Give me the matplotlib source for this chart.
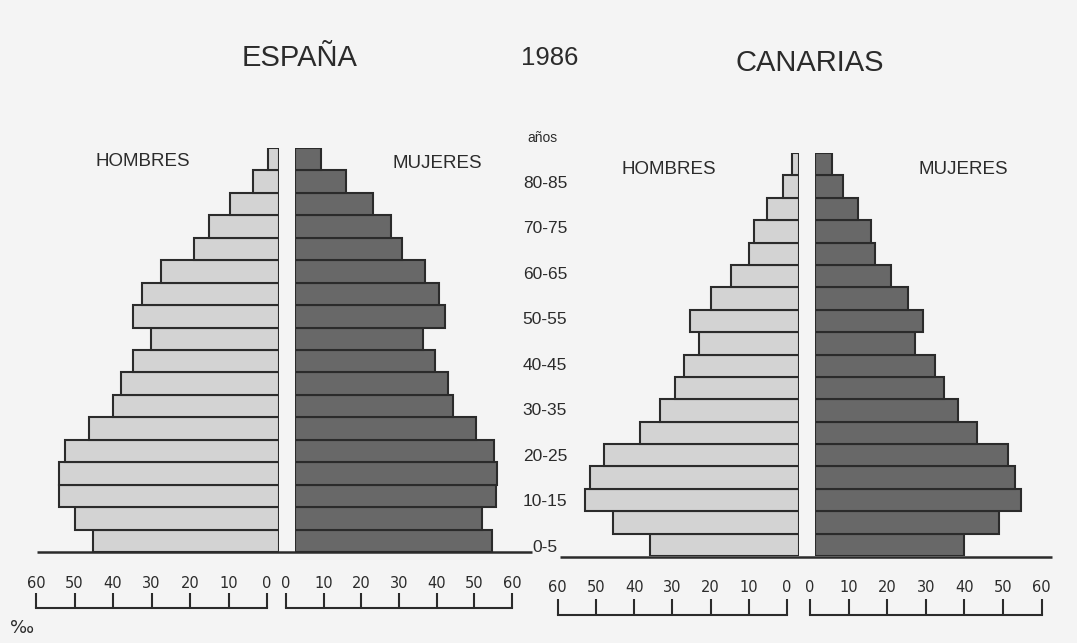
import numpy as np
import matplotlib
matplotlib.use("Agg")
import matplotlib.pyplot as plt

# ---------------- data (‰), age groups from youngest to oldest ----------------
age_groups = ["0-5", "5-10", "10-15", "15-20", "20-25", "25-30", "30-35", "35-40",
              "40-45", "45-50", "50-55", "55-60", "60-65", "65-70", "70-75",
              "75-80", "80-85", "85+"]
labelled_ages = ["0-5", "10-15", "20-25", "30-35", "40-45", "50-55", "60-65", "70-75", "80-85"]

espana_hombres = [48.4, 53.0, 57.1, 57.1, 55.6, 49.3, 43.2, 41.1, 38.0, 33.3,
                  38.0, 35.7, 30.6, 22.1, 18.2, 12.7, 6.8, 2.8]
espana_mujeres = [52.2, 49.5, 53.3, 53.5, 52.8, 48.0, 41.8, 40.7, 37.1, 34.0,
                  39.8, 38.3, 34.5, 28.3, 25.5, 20.6, 13.5, 6.9]
canarias_hombres = [38.9, 48.8, 55.9, 54.6, 51.0, 41.5, 36.3, 32.5, 30.2, 26.3,
                    28.6, 23.0, 17.9, 13.2, 11.9, 8.3, 4.2, 1.8]
canarias_mujeres = [38.5, 47.7, 53.4, 51.9, 50.0, 42.0, 37.0, 33.3, 31.2, 25.8,
                    28.0, 24.1, 19.6, 15.5, 14.4, 11.1, 7.3, 4.4]

ruler_ticks = [0, 10, 20, 30, 40, 50, 60]
ruler_labels = [str(t) for t in ruler_ticks]

# ---------------- figure ----------------
W, H = 1077, 643
fig = plt.figure(figsize=(W / 100, H / 100), dpi=100)
fig.patch.set_facecolor("#f4f4f4")
plt.rcParams["font.family"] = ["Liberation Sans", "DejaVu Sans"]

INK = "#2b2b2b"
C_H = "#d3d3d3"
C_M = "#686868"


def px_axes(x0, y0, x1, y1):
    return fig.add_axes([x0 / W, 1 - y1 / H, (x1 - x0) / W, (y1 - y0) / H])


# overlay for decorations
ov = px_axes(0, 0, W, H)
ov.set_xlim(0, W)
ov.set_ylim(H, 0)
ov.axis("off")
ov.patch.set_alpha(0)

pos = np.arange(len(age_groups))


def side(values, zero, scale, top, bottom, left_side, color):
    span = 60 * scale
    if left_side:
        ax = px_axes(zero - span, top, zero, bottom)
        ax.set_xlim(60, 0)
    else:
        ax = px_axes(zero, top, zero + span, bottom)
        ax.set_xlim(0, 60)
    ax.set_ylim(-0.5, len(values) - 0.5)
    ax.barh(pos, values, height=1.0, color=color, edgecolor=INK, linewidth=1.5)
    ax.axis("off")
    ax.patch.set_alpha(0)
    return ax


# España
side(espana_hombres, 279, 3.85, 148, 552, True, C_H)
side(espana_mujeres, 295, 3.77, 148, 552, False, C_M)
# Canarias
side(canarias_hombres, 799, 3.82, 153, 556, True, C_H)
side(canarias_mujeres, 815, 3.86, 153, 556, False, C_M)

# baselines
ov.plot([37, 532], [552, 552], color=INK, lw=1.8, solid_capstyle="butt")
ov.plot([560, 1052], [557, 557], color=INK, lw=1.8, solid_capstyle="butt")


def ruler(zero, scale, sign, y_line, tick_len, label_y):
    xs = zero + sign * np.array(ruler_ticks) * scale
    ov.plot([xs.min(), xs.max()], [y_line, y_line], color=INK, lw=1.5)
    ov.vlines(xs, y_line - tick_len, y_line, color=INK, lw=1.5)
    for x, lab in zip(xs, ruler_labels):
        ov.text(x, label_y, lab, ha="center", va="center", fontsize=10.5,
                color=INK, family="DejaVu Sans")


ruler(267, 3.85, -1, 608, 15, 583)
ruler(286, 3.767, 1, 608, 15, 583)
ruler(787, 3.82, -1, 615, 16, 587)
ruler(810, 3.86, 1, 615, 16, 587)

ov.text(22, 628, "‰", ha="center", va="center", fontsize=13, color=INK,
        family="DejaVu Sans")

# titles
ov.text(300, 58, "ESPAÑA", ha="center", va="center", fontsize=21, color=INK)
ov.text(549.5, 58, "1986", ha="center", va="center", fontsize=18.5, color=INK)
ov.text(810, 63, "CANARIAS", ha="center", va="center", fontsize=21, color=INK)

ov.text(143, 161, "HOMBRES", ha="center", va="center", fontsize=13.5, color=INK)
ov.text(437, 163, "MUJERES", ha="center", va="center", fontsize=13.5, color=INK)
ov.text(669, 170, "HOMBRES", ha="center", va="center", fontsize=13.5, color=INK)
ov.text(963, 170, "MUJERES", ha="center", va="center", fontsize=13.5, color=INK)

# age labels column
age_ax = px_axes(500, 148.9, 590, 558.4)
age_ax.set_xlim(0, 1)
age_ax.set_ylim(-0.5, len(age_groups) - 0.5)
age_ax.axis("off")
age_ax.patch.set_alpha(0)
for lab in labelled_ages:
    i = age_groups.index(lab)
    age_ax.text(0.5, i, lab, ha="center", va="center", fontsize=12.5, color=INK)
age_ax.text(0.47, len(age_groups), "años", ha="center", va="center",
            fontsize=10, color=INK)

fig.savefig("out.png", dpi=100, facecolor=fig.get_facecolor())
